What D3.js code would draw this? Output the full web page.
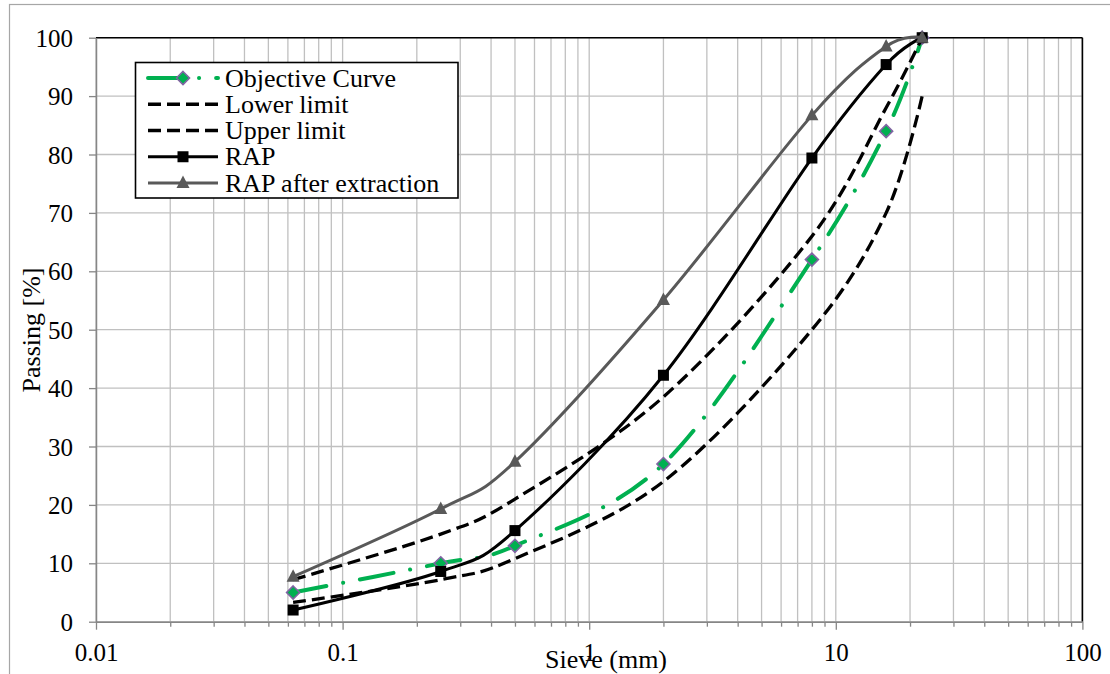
<!DOCTYPE html>
<html>
<head>
<meta charset="utf-8">
<script src="https://cdn.jsdelivr.net/npm/d3@7"></script>
<style>
  html, body { margin: 0; padding: 0; background: #fff; }
  svg { display: block; }
  text { font-family: "Liberation Serif", "Times New Roman", serif; fill: #000; }
</style>
</head>
<body>
<svg id="chart" width="1110" height="674"></svg>
<script>
// ---- data ----
const sieves = [0.063, 0.25, 0.5, 2, 8, 16, 22.4];
const objectiveCurve = [5, 10, 13, 27, 62, 84, 100];
const lowerLimit = [3.3, 7.2, 10.8, 24, 50, 70, 90];
const upperLimit = [7.2, 15, 21, 38.5, 66, 88, 100];
const rap = [2, 8.6, 15.6, 42.2, 79.4, 95.4, 100];
const rapAfterExtraction = [7.7, 19.3, 27.4, 55.1, 86.7, 98.5, 100];
const xTickValues = [0.01, 0.1, 1, 10, 100];
const xTickLabels = ["0.01", "0.1", "1", "10", "100"];
const yTickValues = [0, 10, 20, 30, 40, 50, 60, 70, 80, 90, 100];
const seriesNames = ["Objective Curve", "Lower limit", "Upper limit", "RAP", "RAP after extraction"];

(function () {
// ---- layout ----
const svg = d3.select("#chart");
const W = 1110, H = 674;
const pL = 96, pR = 1082.4, pT = 37.7, pB = 621.7;

const x = d3.scaleLog().domain([0.01, 100]).range([pL, pR]);
const y = d3.scaleLinear().domain([0, 100]).range([pB, pT]);

// outer chart border
svg.append("rect")
  .attr("x", 9.5).attr("y", 4.5).attr("width", W + 20).attr("height", H + 20)
  .attr("fill", "none").attr("stroke", "#a6a6a6").attr("stroke-width", 1.2);

// gridlines
const minorVals = [];
[0.01, 0.1, 1, 10].forEach(d => { for (let k = 1; k <= 9; k++) minorVals.push(+(d * k).toPrecision(3)); });
minorVals.push(100);

const grid = svg.append("g");
grid.selectAll("line.v").data(minorVals).enter().append("line")
  .attr("x1", d => x(d)).attr("x2", d => x(d))
  .attr("y1", pT).attr("y2", pB)
  .attr("stroke", "#c0c0c0").attr("stroke-width", 1.3);
grid.selectAll("line.h").data(yTickValues).enter().append("line")
  .attr("x1", pL).attr("x2", pR)
  .attr("y1", d => y(d)).attr("y2", d => y(d))
  .attr("stroke", "#c0c0c0").attr("stroke-width", 1.3);

// plot area border (black) on top and right
svg.append("line").attr("x1", pL).attr("x2", pR).attr("y1", pT).attr("y2", pT)
  .attr("stroke", "#000").attr("stroke-width", 1.6);
svg.append("line").attr("x1", pR).attr("x2", pR).attr("y1", pT).attr("y2", pB)
  .attr("stroke", "#000").attr("stroke-width", 1.6);

// x axis: minor ticks
const xMinor = d3.axisBottom(x).tickValues(minorVals.filter(v => xTickValues.indexOf(v) < 0))
  .tickSize(5).tickFormat("");
const gxm = svg.append("g").attr("transform", `translate(0,${pB})`).call(xMinor);
gxm.select(".domain").remove();
gxm.selectAll(".tick line").attr("stroke", "#868686").attr("stroke-width", 1.3);

const xAxis = d3.axisBottom(x).tickValues(xTickValues)
  .tickSize(8).tickSizeOuter(0)
  .tickFormat((d, i) => xTickLabels[i]);
const gx = svg.append("g").attr("transform", `translate(0,${pB})`).call(xAxis);
gx.select(".domain").attr("stroke", "#868686").attr("stroke-width", 1.5);
gx.selectAll(".tick line").attr("stroke", "#868686").attr("stroke-width", 1.3);
gx.selectAll(".tick text")
  .attr("y", 0).attr("dy", 0)
  .attr("transform", "translate(0,39.5)")
  .style("font-size", "25px").style("font-family", "'Liberation Serif', serif").attr("fill", "#000");

const yAxis = d3.axisLeft(y).tickValues(yTickValues).tickSize(7).tickSizeOuter(0);
const gy = svg.append("g").attr("transform", `translate(${pL},0)`).call(yAxis);
gy.select(".domain").attr("stroke", "#868686").attr("stroke-width", 1.5);
gy.selectAll(".tick line").attr("stroke", "#868686").attr("stroke-width", 1.3);
gy.selectAll(".tick text")
  .attr("x", -23).attr("dy", "0.34em")
  .style("font-size", "25px").style("font-family", "'Liberation Serif', serif").attr("fill", "#000");

// axis titles
svg.append("text").attr("x", 606).attr("y", 668).attr("text-anchor", "middle")
  .style("font-size", "26px").text("Sieve (mm)");
svg.append("text").attr("transform", "translate(40,330) rotate(-90)").attr("text-anchor", "middle")
  .style("font-size", "26px").text("Passing [%]");

// ---- series ----
const curve = d3.curveCardinal.tension(0);
const lineGen = vals => d3.line().x((d, i) => x(sieves[i])).y(d => y(d)).curve(curve)(vals);

const styles = [
  { vals: objectiveCurve, stroke: "#00B050", width: 4, dash: "34 17 0.1 17", cap: "round", marker: "diamond" },
  { vals: lowerLimit, stroke: "#000", width: 3.3, dash: "13 6", cap: "butt", marker: null },
  { vals: upperLimit, stroke: "#000", width: 3.3, dash: "13 6", cap: "butt", marker: null },
  { vals: rap, stroke: "#000", width: 3, dash: null, cap: "butt", marker: "square" },
  { vals: rapAfterExtraction, stroke: "#595959", width: 3, dash: null, cap: "butt", marker: "triangle" }
];

function drawMarker(g, type, cx, cy) {
  if (type === "diamond") {
    g.append("path")
      .attr("d", `M${cx},${cy - 6.5}L${cx + 6.5},${cy}L${cx},${cy + 6.5}L${cx - 6.5},${cy}Z`)
      .attr("fill", "#00B050").attr("stroke", "#8064A2").attr("stroke-width", 1.6);
  } else if (type === "square") {
    g.append("rect").attr("x", cx - 5.5).attr("y", cy - 5.5).attr("width", 11).attr("height", 11)
      .attr("fill", "#000");
  } else if (type === "triangle") {
    g.append("path")
      .attr("d", `M${cx},${cy - 7.5}L${cx + 6.5},${cy + 5}L${cx - 6.5},${cy + 5}Z`)
      .attr("fill", "#595959");
  }
}

const plot = svg.append("g");
styles.forEach(s => {
  plot.append("path").attr("d", lineGen(s.vals))
    .attr("fill", "none").attr("stroke", s.stroke).attr("stroke-width", s.width)
    .attr("stroke-dasharray", s.dash).attr("stroke-linecap", s.cap).attr("stroke-linejoin", "round");
  if (s.marker) {
    const mg = plot.append("g");
    s.vals.forEach((v, i) => drawMarker(mg, s.marker, x(sieves[i]), y(v)));
  }
});

// ---- legend ----
const lg = svg.append("g");
lg.append("rect").attr("x", 135.5).attr("y", 62.5).attr("width", 322.5).attr("height", 135.5)
  .attr("fill", "#fff").attr("stroke", "#000").attr("stroke-width", 1.6);
const rowY0 = 78, rowDy = 26.25;
styles.forEach((s, i) => {
  const ry = rowY0 + i * rowDy;
  lg.append("line").attr("x1", 148).attr("x2", 218).attr("y1", ry).attr("y2", ry)
    .attr("stroke", s.stroke).attr("stroke-width", s.width)
    .attr("stroke-dasharray", s.dash).attr("stroke-linecap", s.cap);
  if (s.marker) drawMarker(lg, s.marker, 183, ry);
  lg.append("text").attr("x", 225).attr("y", ry).attr("dy", "0.33em")
    .style("font-size", "26px").text(seriesNames[i]);
});
})();
</script>
</body>
</html>
